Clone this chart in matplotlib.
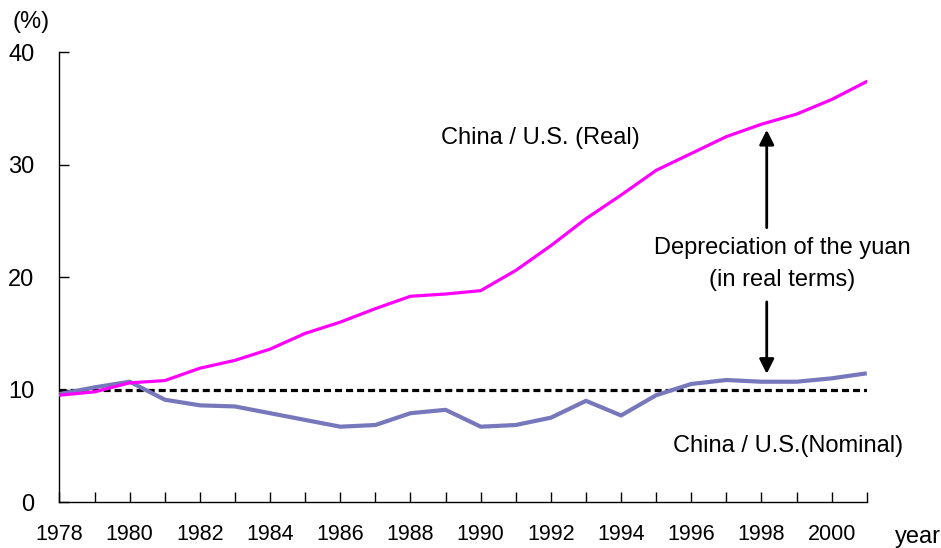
import matplotlib
matplotlib.use("Agg")
import matplotlib.pyplot as plt
import numpy as np

plt.rcParams['font.family'] = ['Liberation Sans', 'DejaVu Sans']

years = np.arange(1978, 2002)
real = [9.5, 9.8, 10.6, 10.8, 11.9, 12.6, 13.6, 15.0, 16.0, 17.2, 18.3, 18.5,
        18.8, 20.6, 22.8, 25.2, 27.3, 29.5, 31.0, 32.5, 33.6, 34.5, 35.8, 37.4]
nominal = [9.6, 10.2, 10.7, 9.1, 8.6, 8.5, 7.9, 7.3, 6.7, 6.85, 7.9, 8.2,
           6.7, 6.85, 7.5, 9.0, 7.7, 9.5, 10.5, 10.85, 10.7, 10.7, 11.0, 11.45]
baseline = 10

fig = plt.figure(figsize=(9.41, 5.48), dpi=100)
ax = fig.add_axes([0.0632, 0.0839, 0.8579, 0.8207])

ax.plot(years, nominal, color="#7777bb", lw=3, solid_capstyle="butt", zorder=3)
ax.plot(years, real, color="#ff00ff", lw=2.3, zorder=4)
ax.axhline(baseline, color="black", lw=2.3, linestyle=(0, (2.2, 1.25)), zorder=2)

ax.set_xlim(1978, 2001)
ax.set_ylim(0, 40)
ax.set_xticks(years)
ax.set_xticklabels([str(y) if y % 2 == 0 else "" for y in years])
ax.set_yticks([0, 10, 20, 30, 40])
ax.tick_params(axis="x", direction="in", length=7, width=1, labelsize=15.5, pad=16)
ax.tick_params(axis="y", direction="in", length=7, width=1, labelsize=17, pad=18)
for s in ["top", "right"]:
    ax.spines[s].set_visible(False)
for s in ["left", "bottom"]:
    ax.spines[s].set_linewidth(1)

ax.text(1991.7, 32.4, "China / U.S. (Real)", fontsize=17, ha="center", va="center")
ax.text(1998.75, 5.0, "China / U.S.(Nominal)", fontsize=17, ha="center", va="center")
ax.text(1998.6, 22.6, "Depreciation of the yuan", fontsize=17,
        ha="center", va="center")
ax.text(1998.6, 19.75, "(in real terms)", fontsize=17, ha="center", va="center")
ax.text(1977.2, 42.7, "(%)", fontsize=17, ha="center", va="center", clip_on=False)
ax.text(2002.45, -3.1, "year", fontsize=17, ha="center", va="center", clip_on=False)

arrow = dict(arrowstyle="-|>", color="black", lw=2, mutation_scale=22,
             shrinkA=0, shrinkB=0)
ax.annotate("", xy=(1998.15, 33.1), xytext=(1998.15, 24.4), arrowprops=arrow)
ax.annotate("", xy=(1998.15, 11.4), xytext=(1998.15, 17.8), arrowprops=arrow)

fig.savefig("out.png", dpi=100)
